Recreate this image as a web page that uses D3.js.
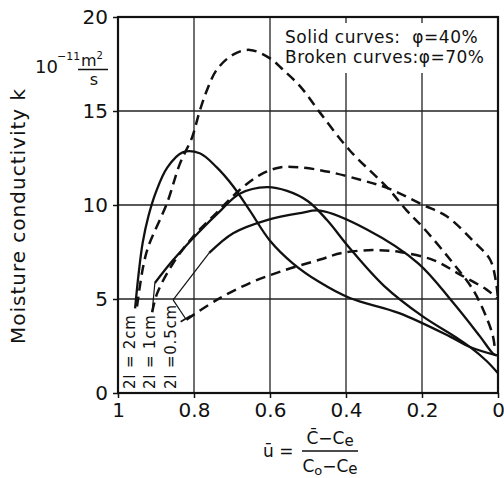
<!DOCTYPE html>
<html><head><meta charset="utf-8">
<script src="https://cdn.jsdelivr.net/npm/d3@7"></script>
<style>
html,body{margin:0;padding:0;background:#fff;}
svg{display:block;font-family:"DejaVu Sans",sans-serif;}
</style></head>
<body><svg id="c" width="504" height="478"></svg>
<script>
// ---- data (u, k) ----
const xTicks = [1, 0.8, 0.6, 0.4, 0.2, 0];
const xTickLabels = ["1", "0.8", "0.6", "0.4", "0.2", "0"];
const yTicks = [0, 5, 10, 15, 20];
const yTickLabels = ["0", "5", "10", "15", "20"];

// solid curves: phi = 40%
const solid2cm = [[0.955,4.5],[0.946,6.3],[0.935,8.0],[0.92,9.4],[0.9,10.7],[0.87,12.0],[0.83,12.8],[0.785,12.75],[0.74,12.0],[0.697,11.0],[0.653,9.7],[0.6,8.1],[0.54,6.9],[0.47,5.9],[0.39,5.05],[0.26,4.25],[0.126,3.0],[0.074,2.45],[0.003,2.0]];
const solid1cm = [[0.903,5.85],[0.855,7.07],[0.79,8.5],[0.73,9.7],[0.68,10.6],[0.608,10.95],[0.555,10.75],[0.5,10.2],[0.45,9.2],[0.39,7.7],[0.3,5.7],[0.2,4.1],[0.11,2.95],[0.074,2.45],[0.03,1.7],[0.0,1.05]];
const solid05cmThin = [[0.855,4.95],[0.76,7.45]];
const solid05cm = [[0.76,7.45],[0.697,8.5],[0.608,9.2],[0.52,9.57],[0.468,9.7],[0.345,8.7],[0.21,6.9],[0.12,4.85],[0.047,3.0],[0.013,2.1],[0.003,2.0]];

// broken curves: phi = 70%
const dashed2cm = [[0.95,4.6],[0.934,6.7],[0.92,7.8],[0.871,10.1],[0.837,12.2],[0.805,13.6],[0.785,15.0],[0.766,16.1],[0.74,17.2],[0.697,18.0],[0.653,18.25],[0.6,17.8],[0.566,17.2],[0.52,16.3],[0.468,14.9],[0.39,12.9],[0.29,10.9],[0.24,9.7],[0.197,8.8],[0.126,7.1],[0.066,5.5],[0.03,4.0],[0.013,3.0],[0.008,2.3]];
const dashed1cm = [[0.91,4.3],[0.897,5.3],[0.855,6.9],[0.803,8.3],[0.74,9.6],[0.68,10.8],[0.626,11.6],[0.574,12.0],[0.52,12.0],[0.442,11.75],[0.355,11.3],[0.29,10.9],[0.197,10.0],[0.135,9.4],[0.066,8.1],[0.021,7.1],[0.006,6.0],[0.0,5.0]];
const dashed05cm = [[0.82,3.9],[0.74,4.95],[0.653,5.85],[0.566,6.5],[0.468,7.1],[0.41,7.45],[0.33,7.6],[0.258,7.5],[0.17,7.07],[0.1,6.3],[0.03,5.5],[0.003,5.05]];

// label pointer lines
const pointer1cm = [[0.91,4.35],[0.903,5.85]];
const pointer05cm = [[0.855,4.95],[0.822,3.95]];

const legendLines = ["Solid curves:  \u03C6=40%", "Broken curves:\u03C6=70%"];
const curveLabels = ["2l = 2cm", "2l = 1cm", "2l =0.5cm"];

// ---- drawing ----
const svg = d3.select("#c");
const x = d3.scaleLinear().domain([1, 0]).range([118, 498]);
const y = d3.scaleLinear().domain([0, 20]).range([393, 17]);

// grid
const g = svg.append("g");
g.selectAll(".vg").data(xTicks).join("line")
  .attr("x1", d => x(d)).attr("x2", d => x(d)).attr("y1", y(0)).attr("y2", y(20))
  .attr("stroke", "#222").attr("stroke-width", 1.3);
g.selectAll(".hg").data(yTicks).join("line")
  .attr("x1", x(1)).attr("x2", x(0)).attr("y1", d => y(d)).attr("y2", d => y(d))
  .attr("stroke", "#222").attr("stroke-width", 1.3);

// axes
const ax = svg.append("g").attr("transform", `translate(0,${y(0)})`)
  .call(d3.axisBottom(x).tickValues(xTicks).tickFormat((d, i) => xTickLabels[i]).tickSize(5).tickPadding(5));
const ay = svg.append("g").attr("transform", `translate(${x(1)},0)`)
  .call(d3.axisLeft(y).tickValues(yTicks).tickFormat((d, i) => yTickLabels[i]).tickSize(5).tickPadding(5));
[ax, ay].forEach(a => {
  a.select(".domain").remove();
  a.selectAll(".tick line").attr("stroke", "#111").attr("stroke-width", 1.5);
  a.selectAll(".tick text").attr("font-size", 20).attr("fill", "#111").attr("font-family", "DejaVu Sans");
});

// frame
svg.append("rect").attr("x", x(1)).attr("y", y(20)).attr("width", x(0) - x(1)).attr("height", y(0) - y(20))
  .attr("fill", "none").attr("stroke", "#111").attr("stroke-width", 2.2);

// legend box
svg.append("rect").attr("x", 279).attr("y", 23).attr("width", 216).attr("height", 50).attr("fill", "#fff");
svg.selectAll(".leg").data(legendLines).join("text")
  .attr("x", 285).attr("y", (d, i) => 43 + i * 20)
  .attr("font-size", 17).attr("letter-spacing", 0.5).attr("fill", "#111")
  .style("white-space", "pre").attr("xml:space", "preserve")
  .text(d => d);

// curves
const line = d3.line().x(d => x(d[0])).y(d => y(d[1])).curve(d3.curveCatmullRom.alpha(0.5));
const straight = d3.line().x(d => x(d[0])).y(d => y(d[1]));
[solid2cm, solid1cm, solid05cm].forEach(s => {
  svg.append("path").attr("d", line(s)).attr("fill", "none").attr("stroke", "#111").attr("stroke-width", 2.3);
});
[dashed2cm, dashed1cm, dashed05cm].forEach(s => {
  svg.append("path").attr("d", line(s)).attr("fill", "none").attr("stroke", "#111").attr("stroke-width", 2.5)
    .attr("stroke-dasharray", "10,6");
});
[solid05cmThin, pointer1cm, pointer05cm].forEach(s => {
  svg.append("path").attr("d", straight(s)).attr("fill", "none").attr("stroke", "#111").attr("stroke-width", 1.2);
});
// bar at end of 0.5cm pointer
{
  const p = pointer05cm[1];
  const px = x(p[0]), py = y(p[1]);
  svg.append("line").attr("x1", px - 5).attr("y1", py + 3).attr("x2", px + 5).attr("y2", py - 3)
    .attr("stroke", "#111").attr("stroke-width", 1.6);
}

// curve labels (rotated)
const labelPos = [[135, 389], [155, 389], [176, 389]];
svg.selectAll(".cl").data(curveLabels).join("text")
  .attr("transform", (d, i) => `translate(${labelPos[i][0]},${labelPos[i][1]}) rotate(-90)`)
  .attr("font-size", 15).attr("letter-spacing", 0.8).attr("fill", "#111")
  .style("white-space", "pre")
  .text(d => d);

// y-axis title
svg.append("text").attr("transform", "translate(25,216) rotate(-90)")
  .attr("text-anchor", "middle").attr("font-size", 20).attr("letter-spacing", 1).attr("fill", "#111")
  .text("Moisture conductivity k");

// units
const u = svg.append("g").attr("fill", "#111");
u.append("text").attr("x", 35).attr("y", 73).attr("font-size", 18).text("10");
u.append("text").attr("x", 57).attr("y", 60).attr("font-size", 11).text("\u221211");
u.append("text").attr("x", 92).attr("y", 66).attr("text-anchor", "middle").attr("font-size", 16)
  .html('m<tspan font-size="10" dy="-7">2</tspan>');
u.append("line").attr("x1", 78).attr("x2", 108).attr("y1", 69.5).attr("y2", 69.5).attr("stroke", "#111").attr("stroke-width", 1.5);
u.append("text").attr("x", 94).attr("y", 85).attr("text-anchor", "middle").attr("font-size", 16).text("s");

// x-axis title
const t = svg.append("g").attr("fill", "#111");
t.append("text").attr("x", 263).attr("y", 457).attr("font-size", 17).text("\u016B =");
t.append("text").attr("x", 330).attr("y", 444).attr("text-anchor", "middle").attr("font-size", 17)
  .html('C\u0304\u2212C<tspan font-size="15" dy="2">e</tspan>');
t.append("line").attr("x1", 302).attr("x2", 358).attr("y1", 451).attr("y2", 451).attr("stroke", "#111").attr("stroke-width", 1.5);
t.append("text").attr("x", 330).attr("y", 472).attr("text-anchor", "middle").attr("font-size", 17)
  .html('C<tspan font-size="13" dy="3">o</tspan><tspan dy="-3">\u2212C</tspan><tspan font-size="15" dy="2">e</tspan>');
</script></body></html>
